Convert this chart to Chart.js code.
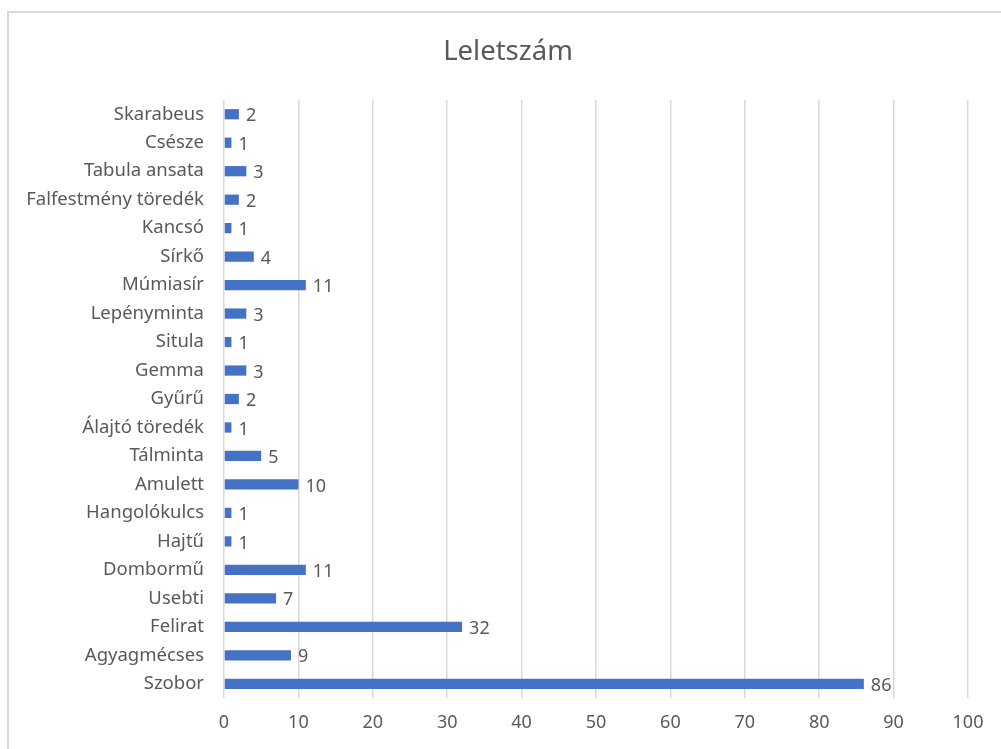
<!DOCTYPE html>
<html>
<head>
<meta charset="utf-8">
<script src="https://cdn.jsdelivr.net/npm/chart.js@4"></script>
<style>
  html, body { margin: 0; padding: 0; background: #fff; overflow: hidden; }
  #frame { position: absolute; left: 7px; top: 11px; width: 1100px; height: 800px; border: 2px solid #d9d9d9; }
  #wrap { position: absolute; left: 0; top: 0; width: 1001px; height: 749px; }
</style>
</head>
<body>
<div id="frame"></div>
<div id="wrap"><canvas id="chart" width="1001" height="749"></canvas></div>
<script>
const chartTitle = "Leletszám";
const categories = ["Skarabeus", "Csésze", "Tabula ansata", "Falfestmény töredék", "Kancsó", "Sírkő", "Múmiasír",
    "Lepényminta", "Situla", "Gemma", "Gyűrű", "Álajtó töredék", "Tálminta", "Amulett", "Hangolókulcs",
    "Hajtű", "Dombormű", "Usebti", "Felirat", "Agyagmécses", "Szobor"];
const counts = [2, 1, 3, 2, 1, 4, 11, 3, 1, 3, 2, 1, 5, 10, 1, 1, 11, 7, 32, 9, 86];
const xTicks = [0, 10, 20, 30, 40, 50, 60, 70, 80, 90, 100];

const textColor = "#595959";
const fontFamily = "'Noto Sans', 'Open Sans', sans-serif";

// value labels at the end of each bar, plus the title (centred on the frame, not the plot)
const extras = {
    id: "extras",
    afterDatasetsDraw(chart) {
        const ctx = chart.ctx;
        const meta = chart.getDatasetMeta(0);
        ctx.save();
        ctx.fillStyle = textColor;
        ctx.font = "18px " + fontFamily;
        ctx.textAlign = "left";
        ctx.textBaseline = "middle";
        meta.data.forEach((bar, i) => {
            ctx.fillText(String(counts[i]), bar.x + 7, bar.y + 2);
        });
        ctx.font = "27.5px " + fontFamily;
        ctx.textAlign = "center";
        ctx.fillText(chartTitle, 508, 52);
        ctx.restore();
    }
};

const ctx = document.getElementById("chart").getContext("2d");
const chart = new Chart(ctx, {
    type: 'bar',
    data: {
        labels: categories,
        datasets: [{
            label: chartTitle,
            backgroundColor: '#4472C4',
            data: counts,
            categoryPercentage: 1,
            barPercentage: 0.36
        }]
    },
    options: {
        indexAxis: 'y',
        responsive: false,
        animation: false,
        layout: {
            padding: { left: 0, right: 33, top: 100, bottom: 11 }
        },
        plugins: {
            legend: { display: false },
            tooltip: { enabled: false },
            title: { display: false }
        },
        scales: {
            x: {
                min: 0,
                max: 100,
                afterBuildTicks(scale) {
                    scale.ticks = xTicks.map(v => ({ value: v }));
                },
                afterFit(scale) { scale.height = 40; },
                grid: { color: '#d9d9d9', lineWidth: 1.5, drawTicks: false },
                border: { display: false },
                ticks: {
                    color: textColor,
                    padding: 14,
                    font: { family: fontFamily, size: 18 }
                }
            },
            y: {
                afterFit(scale) { scale.width = 224; },
                grid: { display: false, drawTicks: false },
                border: { display: false },
                ticks: {
                    color: textColor,
                    padding: 20,
                    autoSkip: false,
                    font: { family: fontFamily, size: 18.5 }
                }
            }
        }
    },
    plugins: [extras]
});
</script>
</body>
</html>
